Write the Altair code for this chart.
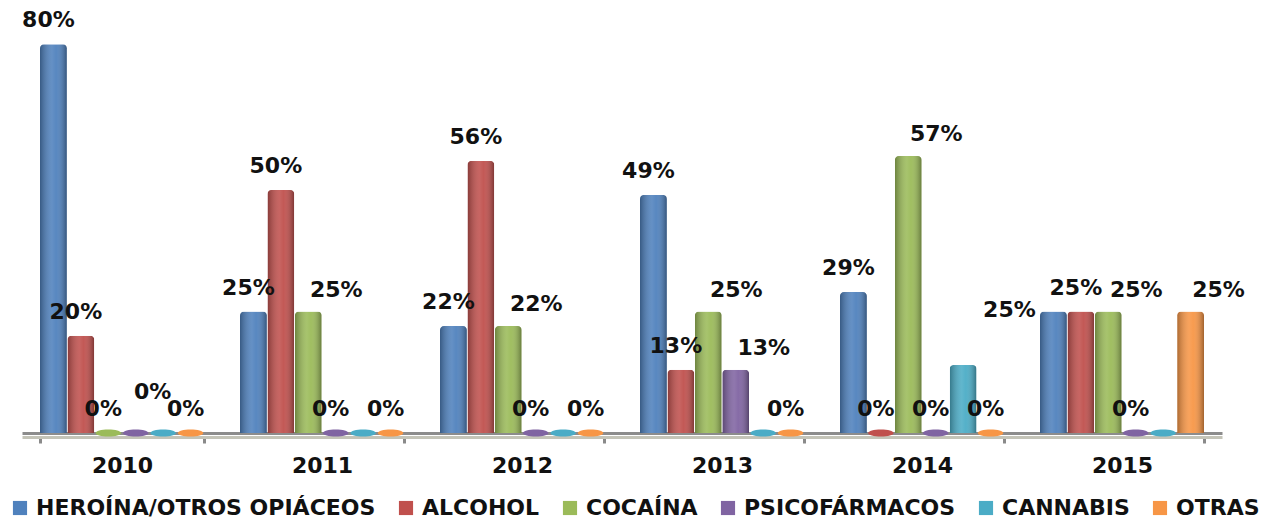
import altair as alt
import pandas as pd

years = ["2010", "2011", "2012", "2013", "2014", "2015"]
series = ["HEROÍNA/OTROS OPIÁCEOS", "ALCOHOL", "COCAÍNA", "PSICOFÁRMACOS", "CANNABIS", "OTRAS"]
colors = ["#4F81BD", "#C0504D", "#9BBB59", "#8064A2", "#4BACC6", "#F79646"]

heroina = [80, 25, 22, 49, 29, 25]
alcohol = [20, 50, 56, 13, 0, 25]
cocaina = [0, 25, 22, 25, 57, 25]
psicofarmacos = [0, 0, 0, 13, 0, 0]
cannabis = [0, 0, 0, 0, 14, 0]
otras = [0, 0, 0, 0, 0, 25]

# which series show data labels in the original
show_label = [True, True, True, True, False, True]

values = [heroina, alcohol, cocaina, psicofarmacos, cannabis, otras]
rows = []
for si, (s, vals, show) in enumerate(zip(series, values, show_label)):
    for yi, (y, v) in enumerate(zip(years, vals)):
        # label placement class (mimics the spreading of labels in the original)
        left_v = values[si - 1][yi] if si > 0 else None
        left_shown = show_label[si - 1] if si > 0 else False
        if si == 0 and v == alcohol[yi]:
            pos = "left"
        elif si >= 2 and v > 0:
            pos = "right"
        elif v == 0 and left_v == 0 and left_shown:
            pos = "raised"
        else:
            pos = "center"
        rows.append({"year": y, "serie": s, "v": v,
                     "label": f"{v}%" if show else "", "pos": pos})
df = pd.DataFrame(rows)

FONT = "DejaVu Sans"

x_enc = alt.X("year:N", sort=years, title=None,
              scale=alt.Scale(paddingInner=0.18, paddingOuter=0.09),
              axis=alt.Axis(labelAngle=0, labelFont=FONT, labelFontWeight="bold",
                            labelFontSize=22, labelColor="#111", labelPadding=12,
                            domainColor="#c4c4b8", domainWidth=3, offset=4,
                            tickColor="#8a8a8a", tickWidth=3, tickSize=6,
                            tickBand="extent"))
xoff = alt.XOffset("serie:N", sort=series, scale=alt.Scale(paddingInner=0.02))
y_enc = alt.Y("v:Q", title=None, scale=alt.Scale(domain=[0, 85], nice=False),
              axis=alt.Axis(values=[0], grid=True, gridColor="#8c8c8c", gridWidth=3,
                            labels=False, ticks=False, domain=False))

color_enc = alt.Color("serie:N", sort=series, title=None,
                      scale=alt.Scale(domain=series, range=colors),
                      legend=alt.Legend(orient="none", direction="horizontal",
                                        legendX=-13, legendY=477, columns=6,
                                        symbolType="square", symbolSize=200,
                                        symbolStrokeWidth=0,
                                        labelFont=FONT, labelFontWeight="bold",
                                        labelFontSize=22, labelColor="#111",
                                        labelOffset=5, columnPadding=19,
                                        labelLimit=0))

base = alt.Chart(df).encode(x=x_enc, xOffset=xoff)

bars = base.mark_bar(cornerRadiusTopLeft=4, cornerRadiusTopRight=4).encode(
    y=y_enc, color=color_enc)

shade = base.mark_bar(
    cornerRadiusTopLeft=4, cornerRadiusTopRight=4,
    color=alt.Gradient(
        gradient="linear", x1=0, x2=1, y1=0, y2=0,
        stops=[alt.GradientStop(color="rgba(0,0,0,0.30)", offset=0),
               alt.GradientStop(color="rgba(255,255,255,0.12)", offset=0.45),
               alt.GradientStop(color="rgba(255,255,255,0.05)", offset=0.6),
               alt.GradientStop(color="rgba(0,0,0,0.35)", offset=1)]),
).encode(y=alt.Y("v:Q"))

discs = base.transform_filter("datum.v == 0").mark_point(
    shape="M-1,0A1,0.28 0 1,0 1,0A1,0.28 0 1,0 -1,0Z",
    size=650, filled=True, opacity=1, strokeWidth=0,
).encode(y=alt.Y("v:Q"), color=alt.Color("serie:N", sort=series,
                                         scale=alt.Scale(domain=series, range=colors),
                                         legend=None))

text_style = dict(font=FONT, fontWeight="bold", fontSize=22, color="#111",
                  baseline="middle")
lab_center = base.transform_filter("datum.pos == 'center'").mark_text(
    dy=-24, dx=-5, **text_style).encode(y=alt.Y("v:Q"), text="label:N")
lab_raised = base.transform_filter("datum.pos == 'raised'").mark_text(
    dy=-41, dx=17, **text_style).encode(y=alt.Y("v:Q"), text="label:N")
lab_right = base.transform_filter("datum.pos == 'right'").mark_text(
    dy=-22, dx=28, **text_style).encode(y=alt.Y("v:Q"), text="label:N")
lab_left = base.transform_filter("datum.pos == 'left'").mark_text(
    dy=-2, dx=-44, **text_style).encode(y=alt.Y("v:Q"), text="label:N")

chart = alt.layer(bars, shade, discs, lab_center, lab_raised, lab_right,
                  lab_left).properties(
    width=1200, height=413,
    background="white",
    autosize=alt.AutoSizeParams(type="none"),
    padding={"left": 14, "top": 12, "right": 47, "bottom": 92},
).configure_view(stroke=None)

chart.save("out.html", embed_options={"renderer": "svg", "actions": False})
